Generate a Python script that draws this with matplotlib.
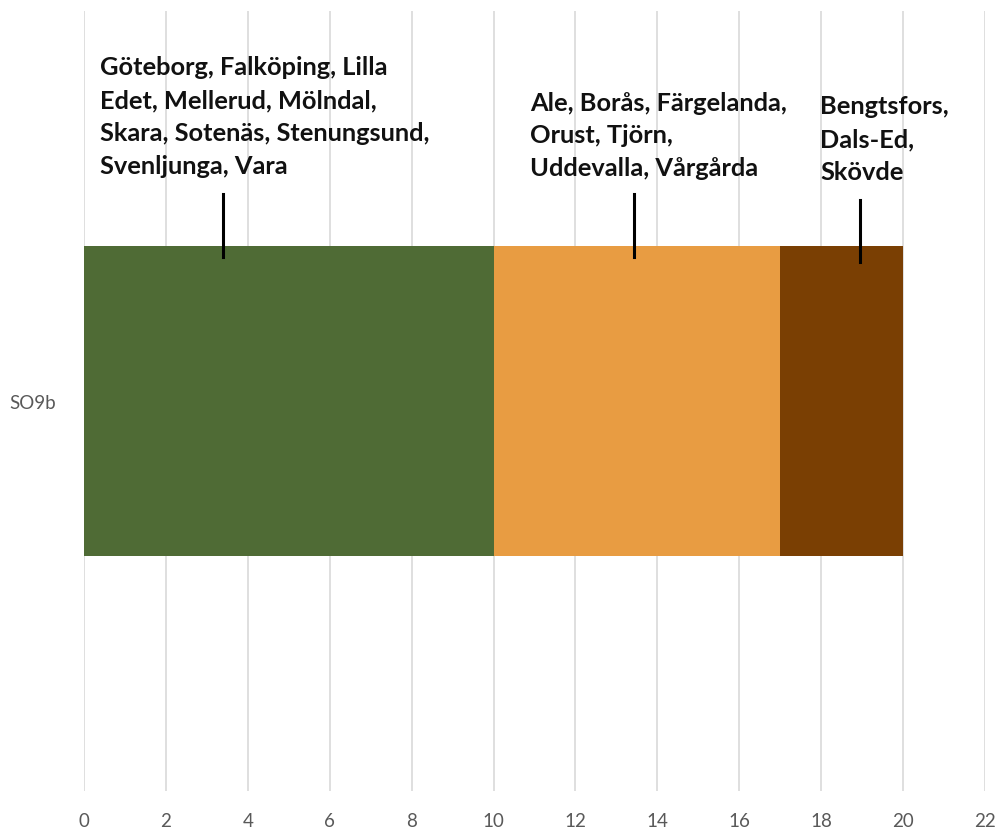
import matplotlib
matplotlib.use("Agg")
import matplotlib.pyplot as plt

# Stacked horizontal bar: one category split into three groups of municipalities
category = "SO9b"
segment_values = [10, 7, 3]
segment_colors = ["#4f6b35", "#e89c42", "#7a3f03"]
segment_labels = [
    "Göteborg, Falköping, Lilla\nEdet, Mellerud, Mölndal,\nSkara, Sotenäs, Stenungsund,\nSvenljunga, Vara",
    "Ale, Borås, Färgelanda,\nOrust, Tjörn,\nUddevalla, Vårgårda",
    "Bengtsfors,\nDals-Ed,\nSkövde",
]
# label anchor (x of leader line, x of text left edge, y of text top) in data units
leader_x = [3.39, 13.43, 18.95]
text_x = [0.39, 10.89, 17.97]
text_top = [0.443, 0.398, 0.393]
leader_top = [0.265, 0.265, 0.258]
leader_bottom = [0.185, 0.185, 0.178]

x_ticks = list(range(0, 23, 2))

plt.rcParams["font.family"] = ["Lato", "DejaVu Sans"]

fig = plt.figure(figsize=(9.98, 8.29), dpi=100)
ax = fig.add_axes([84 / 998, 37 / 829, 901 / 998, 780 / 829])

left = 0
for val, col in zip(segment_values, segment_colors):
    ax.barh(0, val, left=left, height=0.397, color=col, zorder=2)
    left += val

for lab, lx, tx, ty, l0, l1 in zip(segment_labels, leader_x, text_x, text_top,
                                   leader_top, leader_bottom):
    ax.plot([lx, lx], [l0, l1], color="black", linewidth=2.2, zorder=3)
    ax.text(tx, ty, lab, ha="left", va="top", fontsize=18.3, fontweight="bold",
            color="#111111", linespacing=1.52, zorder=4)

ax.set_xlim(0, 22)
ax.set_ylim(-0.5, 0.5)
ax.set_xticks(x_ticks)
ax.set_xticklabels([str(t) for t in x_ticks], color="#595959", fontsize=13.5)
ax.set_yticks([0])
ax.set_yticklabels([category], color="#595959", fontsize=13.5)
ax.tick_params(length=0)
ax.tick_params(axis="x", pad=15)
ax.tick_params(axis="y", pad=20)
ax.xaxis.grid(True, color="#d9d9d9", linewidth=1.2, zorder=0)
ax.set_axisbelow(True)
for sp in ax.spines.values():
    sp.set_visible(False)

fig.savefig("out.png", dpi=100)
